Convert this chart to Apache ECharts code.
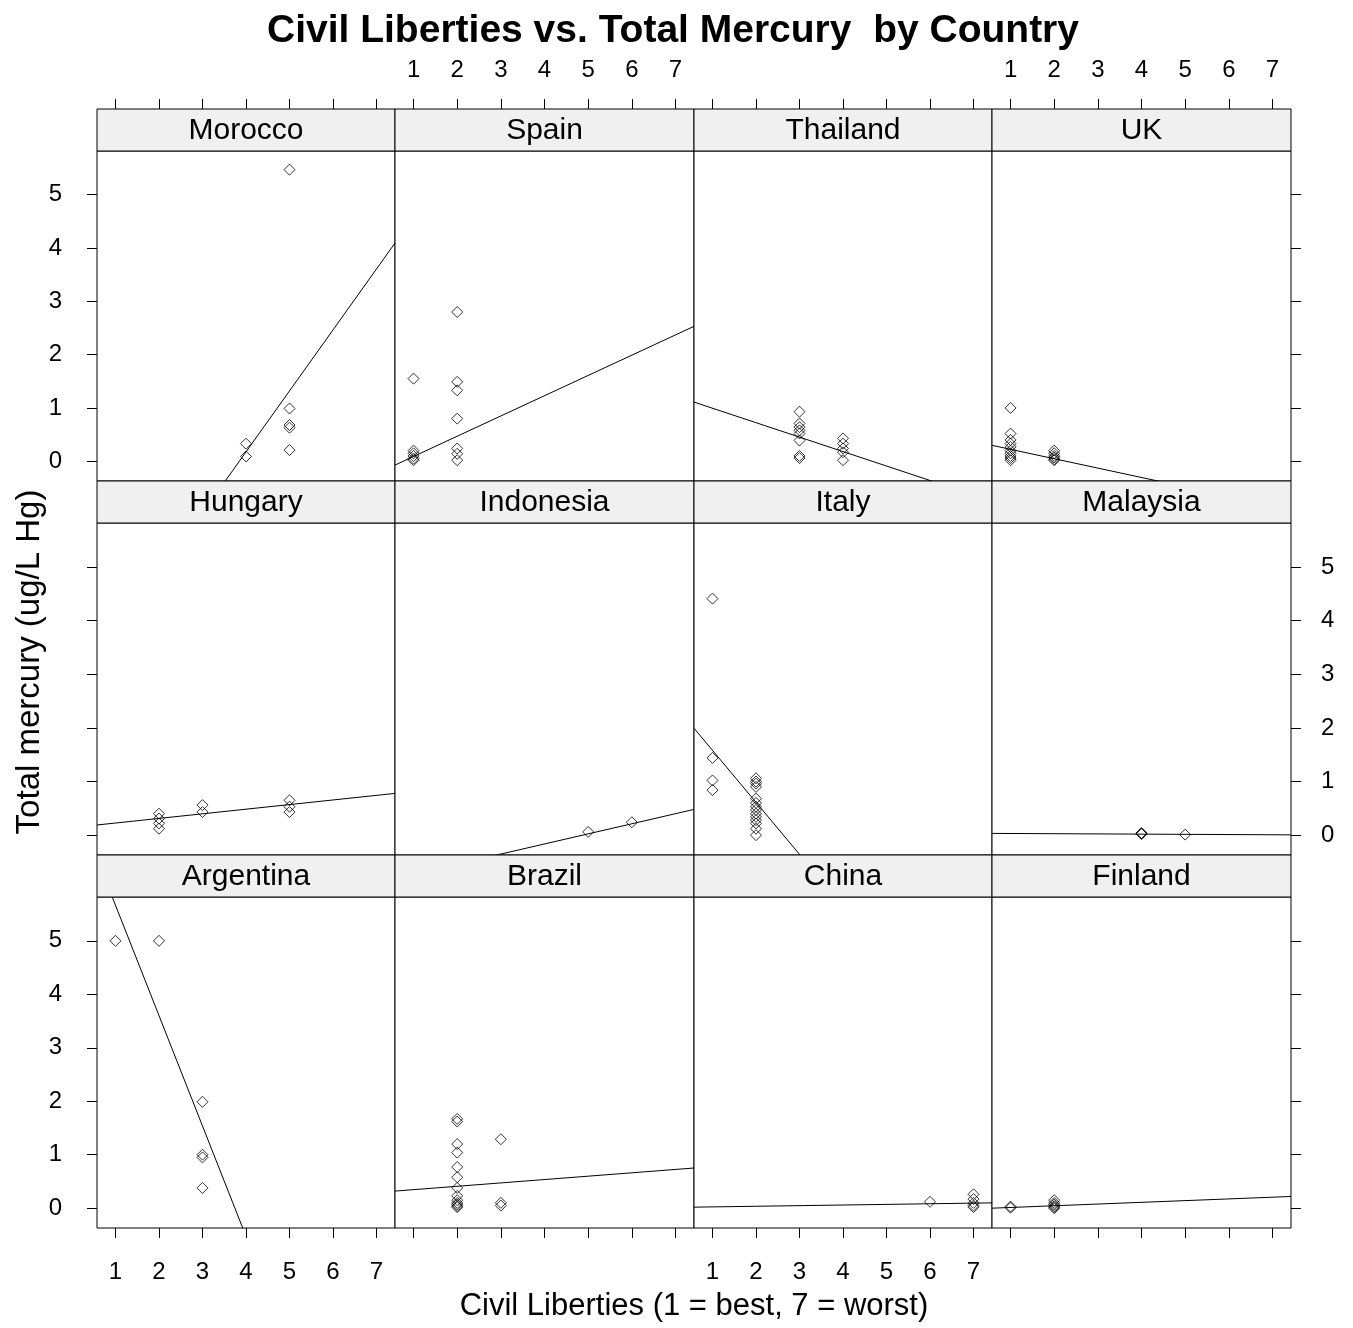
<!DOCTYPE html>
<html>
<head>
<meta charset="UTF-8">
<script src="https://cdn.jsdelivr.net/npm/echarts@6/dist/echarts.min.js"></script>
<style>
    html, body { margin: 0; padding: 0; background: #fff; }
    #chart { width: 1353px; height: 1328px; }
</style>
</head>
<body>
<div id="chart"></div>
<script>
    // panel order as lattice draws it: bottom-left first, left to right, upwards
    var countries = ['Argentina', 'Brazil', 'China', 'Finland',
                     'Hungary', 'Indonesia', 'Italy', 'Malaysia',
                     'Morocco', 'Spain', 'Thailand', 'UK'];

    // [civil liberties, total mercury]
    var argentina = [[1, 5.0], [2, 5.0], [3, 1.99], [3, 1.0], [3, 0.95], [3, 0.38]];
    var brazil = [[2, 1.67], [2, 1.62], [2, 1.2], [2, 1.04], [2, 0.77], [2, 0.58], [2, 0.38], [2, 0.23],
                  [2, 0.15], [2, 0.1], [2, 0.07], [2, 0.04], [2, 0.02], [3, 1.29], [3, 0.1], [3, 0.05]];
    var china = [[6, 0.12], [7, 0.26], [7, 0.17], [7, 0.1], [7, 0.05], [7, 0.02]];
    var finland = [[1, 0.03], [1, 0.01], [2, 0.15], [2, 0.1], [2, 0.07], [2, 0.04], [2, 0.02], [2, 0.0]];
    var hungary = [[2, 0.4], [2, 0.31], [2, 0.22], [2, 0.12], [3, 0.56], [3, 0.43], [5, 0.65], [5, 0.53], [5, 0.43]];
    var indonesia = [[5, 0.06], [6, 0.24]];
    var italy = [[1, 4.41], [1, 1.44], [1, 1.02], [1, 0.84], [2, 1.06], [2, 1.0], [2, 0.96], [2, 0.9], [2, 0.68],
                 [2, 0.6], [2, 0.53], [2, 0.47], [2, 0.4], [2, 0.34], [2, 0.28], [2, 0.22], [2, 0.12], [2, 0.0]];
    var malaysia = [[4, 0.04], [4, 0.03], [4, 0.02], [5, 0.01]];
    var morocco = [[4, 0.33], [4, 0.09], [5, 5.47], [5, 0.99], [5, 0.68], [5, 0.63], [5, 0.21]];
    var spain = [[1, 1.55], [1, 0.2], [1, 0.15], [1, 0.1], [1, 0.05], [1, 0.02],
                 [2, 2.8], [2, 1.49], [2, 1.33], [2, 0.8], [2, 0.24], [2, 0.14], [2, 0.02]];
    var thailand = [[3, 0.93], [3, 0.71], [3, 0.64], [3, 0.58], [3, 0.52], [3, 0.39], [3, 0.1], [3, 0.06],
                    [4, 0.43], [4, 0.33], [4, 0.24], [4, 0.17], [4, 0.02]];
    var uk = [[1, 1.0], [1, 0.52], [1, 0.4], [1, 0.33], [1, 0.27], [1, 0.2], [1, 0.15], [1, 0.1], [1, 0.06], [1, 0.02],
              [2, 0.2], [2, 0.15], [2, 0.1], [2, 0.07], [2, 0.04], [2, 0.02]];

    var points = [argentina, brazil, china, finland, hungary, indonesia,
                  italy, malaysia, morocco, spain, thailand, uk];

    // fitted line per panel: mercury = intercept + slope * liberties
    var fitIntercept = [7.73, 0.284, 0.013, -0.018, 0.14, -0.916, 2.55, 0.035, -4.40, -0.29, 1.266, 0.40];
    var fitSlope = [-2.064, 0.063, 0.0117, 0.032, 0.086, 0.188, -0.969, -0.004, 1.144, 0.38, -0.271, -0.176];

    var xTicks = [1, 2, 3, 4, 5, 6, 7];
    var yTicks = [0, 1, 2, 3, 4, 5];

    function drawChart() {
        var xMin = 0.575, xMax = 7.425, yMin = -0.37, yMax = 5.82;
        var font = "'Liberation Sans', Arial, sans-serif";
        var colLeft = [97, 395, 694, 992, 1291];
        var rowTop = [109, 481, 855];
        var plotBottom = [481, 855, 1228];
        var stripH = 42;

        var grids = [], xAxes = [], yAxes = [], series = [], graphics = [];

        for (var i = 0; i < countries.length; i++) {
            var r = 2 - Math.floor(i / 4);
            var c = i % 4;
            var gLeft = colLeft[c], gWidth = colLeft[c + 1] - colLeft[c];
            var gTop = rowTop[r] + stripH;

            grids.push({
                left: gLeft, top: gTop, width: gWidth, height: plotBottom[r] - gTop,
                show: true, borderColor: '#000', borderWidth: 1, backgroundColor: '#fff'
            });

            xAxes.push({
                type: 'value', gridIndex: i, min: xMin, max: xMax,
                position: r == 0 ? 'top' : 'bottom',
                offset: r == 0 ? stripH : 0,
                axisLine: { show: false, onZero: false },
                splitLine: { show: false },
                axisTick: { show: r != 1, customValues: xTicks, length: 10, lineStyle: { color: '#000', width: 1 } },
                axisLabel: {
                    show: (r == 0 && c % 2 == 1) || (r == 2 && c % 2 == 0),
                    customValues: xTicks, margin: r == 0 ? 27 : 32,
                    fontSize: 24, color: '#000', fontFamily: font
                }
            });

            yAxes.push({
                type: 'value', gridIndex: i, min: yMin, max: yMax,
                position: c == 3 ? 'right' : 'left',
                axisLine: { show: false, onZero: false },
                splitLine: { show: false },
                axisTick: { show: c == 0 || c == 3, customValues: yTicks, length: 10, lineStyle: { color: '#000', width: 1 } },
                axisLabel: {
                    show: (c == 0 && r != 1) || (c == 3 && r == 1),
                    customValues: yTicks, margin: c == 3 ? 30 : 35,
                    fontSize: 24, color: '#000', fontFamily: font
                }
            });

            series.push({
                type: 'scatter', xAxisIndex: i, yAxisIndex: i,
                data: points[i], symbol: 'diamond', symbolSize: 11,
                itemStyle: { color: 'rgba(0,0,0,0)', borderColor: '#000', borderWidth: 1 },
                z: 3
            });

            series.push({
                type: 'line', xAxisIndex: i, yAxisIndex: i, clip: true,
                data: [[xMin, fitIntercept[i] + fitSlope[i] * xMin], [xMax, fitIntercept[i] + fitSlope[i] * xMax]],
                showSymbol: false, symbol: 'none',
                lineStyle: { color: '#000', width: 1 },
                z: 2
            });

            // strip with the country name
            graphics.push({
                type: 'rect', z: 10,
                shape: { x: gLeft, y: rowTop[r], width: gWidth, height: stripH },
                style: { fill: '#f0f0f0', stroke: '#000', lineWidth: 1 }
            });
            graphics.push({
                type: 'text', z: 11,
                x: gLeft + gWidth / 2, y: rowTop[r] + stripH / 2 + 1,
                style: { text: countries[i], fontSize: 30, fontFamily: font, fill: '#000',
                         align: 'center', verticalAlign: 'middle' }
            });
        }

        graphics.push({
            type: 'text', z: 11, x: 694, y: 1306,
            style: { text: 'Civil Liberties (1 = best, 7 = worst)', fontSize: 31, fontFamily: font, fill: '#000',
                     align: 'center', verticalAlign: 'middle' }
        });
        graphics.push({
            type: 'text', z: 11, x: 30, y: 662, rotation: Math.PI / 2,
            style: { text: 'Total mercury (ug/L Hg)', fontSize: 33, fontFamily: font, fill: '#000',
                     align: 'center', verticalAlign: 'middle' }
        });

        var chart = echarts.init(document.getElementById('chart'));
        chart.setOption({
            animation: false,
            backgroundColor: '#fff',
            title: {
                text: 'Civil Liberties vs. Total Mercury  by Country',
                left: 668, textAlign: 'center', top: 7,
                textStyle: { fontSize: 39, fontWeight: 'bold', color: '#000', fontFamily: font }
            },
            grid: grids,
            xAxis: xAxes,
            yAxis: yAxes,
            series: series,
            graphic: graphics
        });
    }

    drawChart();
</script>
</body>
</html>
